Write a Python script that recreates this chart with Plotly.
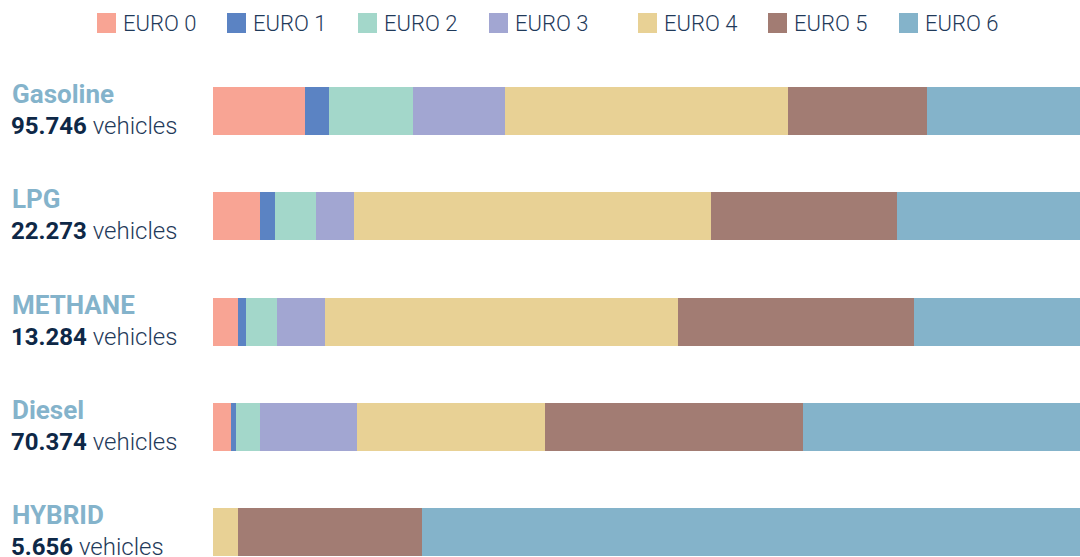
import plotly.graph_objects as go

# Fleet composition by fuel type, share of vehicles per Euro emission class (%)
fuels = ["Gasoline", "LPG", "METHANE", "Diesel", "HYBRID"]
vehicle_counts = ["95.746", "22.273", "13.284", "70.374", "5.656"]
classes = ["EURO 0", "EURO 1", "EURO 2", "EURO 3", "EURO 4", "EURO 5", "EURO 6"]

euro0 = [10.6, 5.4, 2.9, 2.1, 0.0]
euro1 = [2.8, 1.7, 0.9, 0.6, 0.0]
euro2 = [9.7, 4.8, 3.6, 2.7, 0.0]
euro3 = [10.6, 4.4, 5.5, 11.2, 0.0]
euro4 = [32.6, 41.1, 40.7, 21.7, 2.9]
euro5 = [16.0, 21.5, 27.3, 29.7, 21.2]
euro6 = [17.7, 21.1, 19.1, 32.0, 75.9]

shares = [euro0, euro1, euro2, euro3, euro4, euro5, euro6]
colors = ["#F8A494", "#5B83C3", "#A3D7CA", "#A2A6D2", "#E8D195", "#A27C73", "#84B3CA"]

W, H = 1080, 557
ML, MT = 213, 58
plot_w, plot_h = W - ML, H - MT

FONT = "Roboto, sans-serif"
NAME_COLOR = "#84B3CB"
DARK = "#0E2847"
TEXT = "#1F3A5A"


def px_x(px):
    return (px - ML) / plot_w


def px_y(py):
    return 1 - (py - MT) / plot_h


fig = go.Figure()
ypos = list(range(len(fuels)))
for name, vals, col in zip(classes, shares, colors):
    fig.add_trace(go.Bar(
        y=ypos, x=vals, name=name, orientation="h",
        marker=dict(color=col, line=dict(width=0)),
        width=0.456, showlegend=False,
        hovertemplate="%{x:.1f}%<extra>" + name + "</extra>",
    ))

# Row labels: fuel name above the vehicle count
for i, (fuel, cnt) in enumerate(zip(fuels, vehicle_counts)):
    fig.add_annotation(
        x=px_x(10), xref="paper", y=i, yref="y", yshift=17,
        text=f"<b>{fuel}</b>", showarrow=False, xanchor="left", yanchor="middle",
        font=dict(family=FONT, size=26, color=NAME_COLOR),
    )
    fig.add_annotation(
        x=px_x(9), xref="paper", y=i, yref="y", yshift=-15,
        text=f"<b><span style='color:{DARK}'>{cnt}</span></b> vehicles",
        showarrow=False, xanchor="left", yanchor="middle",
        font=dict(family=FONT, size=24, color=TEXT, weight=300),
    )

# Legend drawn as colour squares with labels across the top
legend_x = [97, 227, 358, 489, 638, 768, 899]
shapes = []
for lx, name, col in zip(legend_x, classes, colors):
    shapes.append(dict(
        type="rect", xref="paper", yref="paper",
        x0=px_x(lx), x1=px_x(lx + 19), y0=px_y(33), y1=px_y(13),
        fillcolor=col, line=dict(width=0),
    ))
    fig.add_annotation(
        x=px_x(lx + 24), xref="paper", y=px_y(23), yref="paper",
        text=name, showarrow=False, xanchor="left", yanchor="middle",
        font=dict(family=FONT, size=22, color=TEXT, weight=300),
    )

fig.update_layout(
    width=W, height=H, autosize=False,
    margin=dict(l=ML, r=0, t=MT, b=0, pad=0),
    paper_bgcolor="white", plot_bgcolor="white",
    barmode="stack", bargap=0,
    shapes=shapes,
    xaxis=dict(range=[0, 100], visible=False, fixedrange=True),
    yaxis=dict(range=[(H - 111) / 105.25, (MT - 111) / 105.25],
               visible=False, fixedrange=True),
)

fig.write_html("out.html")
